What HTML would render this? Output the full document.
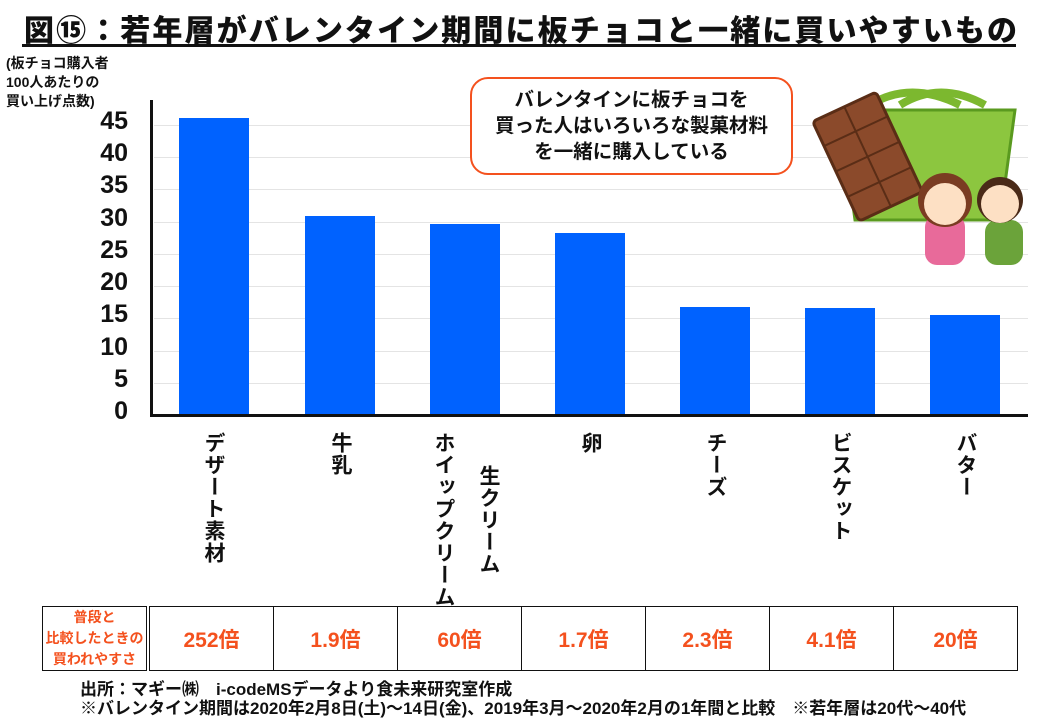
<!DOCTYPE html>
<html><head><meta charset="utf-8"><style>
body{margin:0;width:1040px;height:720px;background:#fff;position:relative;overflow:hidden;font-family:"Liberation Sans","Noto Sans CJK JP",sans-serif;font-weight:bold;color:#111}
.a{position:absolute}
.t{left:24px;top:6px;font-size:30px;letter-spacing:2.1px;white-space:nowrap;font-weight:900}
.ul{left:22px;top:44px;width:994px;height:3px;background:#111}
.yl{left:6px;top:54px;font-size:14px;line-height:19px}
.tk{width:42px;text-align:right;left:86px;font-size:25px;line-height:25px;font-weight:900}
.gl{left:154px;width:874px;height:1px;background:#e4e4e4}
.bar{background:#0062ff;width:70px}
.cat{writing-mode:vertical-rl;font-size:21px;line-height:24px;top:432px;letter-spacing:1px}
table{position:absolute;left:42px;top:606px;border-collapse:collapse}
td{border:1.5px solid #111;height:62px;width:123px;text-align:center;color:#f4511e;font-size:21px;padding:0}
td.h{width:103px;font-size:14px;line-height:21px;border-right:4px double #111}
.src{left:80px;top:680px;font-size:17px;line-height:19px;white-space:nowrap}
.call{left:470px;top:77px;width:323px;height:98px;border:2.5px solid #f4511e;border-radius:18px;text-align:center;font-size:19.5px;line-height:26px;padding-top:8px;box-sizing:border-box;background:#fff}
</style></head><body>
<div class="a t">図⑮：若年層がバレンタイン期間に板チョコと一緒に買いやすいもの</div>
<div class="a ul"></div>
<div class="a yl">(板チョコ購入者<br>100人あたりの<br>買い上げ点数)</div>
<div class="a gl" style="top:125px"></div><div class="a gl" style="top:157px"></div><div class="a gl" style="top:189px"></div><div class="a gl" style="top:222px"></div><div class="a gl" style="top:254px"></div><div class="a gl" style="top:286px"></div><div class="a gl" style="top:318px"></div><div class="a gl" style="top:351px"></div><div class="a gl" style="top:383px"></div>
<div class="a tk" style="top:109px">45</div><div class="a tk" style="top:141px">40</div><div class="a tk" style="top:173px">35</div><div class="a tk" style="top:206px">30</div><div class="a tk" style="top:238px">25</div><div class="a tk" style="top:270px">20</div><div class="a tk" style="top:302px">15</div><div class="a tk" style="top:335px">10</div><div class="a tk" style="top:367px">5</div><div class="a tk" style="top:399px">0</div>
<div class="a bar" style="left:179px;top:118px;height:297px"></div>
<div class="a bar" style="left:305px;top:216px;height:199px"></div>
<div class="a bar" style="left:430px;top:224px;height:191px"></div>
<div class="a bar" style="left:555px;top:233px;height:182px"></div>
<div class="a bar" style="left:680px;top:307px;height:108px"></div>
<div class="a bar" style="left:805px;top:308px;height:107px"></div>
<div class="a bar" style="left:930px;top:315px;height:100px"></div>
<div class="a" style="left:150px;top:100px;width:3px;height:317px;background:#111"></div>
<div class="a" style="left:150px;top:414px;width:878px;height:3px;background:#111"></div>
<div class="a cat" style="left:201px">デザート素材</div>
<div class="a cat" style="left:328px">牛乳</div>
<div class="a cat" style="left:431px">ホイップクリーム</div>
<div class="a cat" style="left:476px;top:465px">生クリーム</div>
<div class="a cat" style="left:578px">卵</div>
<div class="a cat" style="left:703px">チーズ</div>
<div class="a cat" style="left:828px">ビスケット</div>
<div class="a cat" style="left:953px">バター</div>
<div class="a call">バレンタインに板チョコを<br>買った人はいろいろな製菓材料<br>を一緒に購入している</div>
<svg class="a" style="left:810px;top:80px" width="220" height="190">
<path d="M60 25 Q100 0 150 25" stroke="#7cb82f" stroke-width="8" fill="none"/>
<path d="M90 25 Q130 0 175 25" stroke="#7cb82f" stroke-width="8" fill="none"/>
<path d="M30 30 L205 30 L190 140 L45 140 Z" fill="#8cc63f" stroke="#5a9a1f" stroke-width="3"/>
<g transform="rotate(-25 60 70)"><rect x="20" y="20" width="70" height="110" rx="4" fill="#8b4a2b" stroke="#5a2d16" stroke-width="3"/>
<path d="M20 47H90M20 75H90M20 103H90M55 20V130" stroke="#5a2d16" stroke-width="2"/></g>
<rect x="115" y="135" width="40" height="50" rx="12" fill="#e86a9a"/>
<circle cx="135" cy="120" r="27" fill="#7a3c22"/><circle cx="135" cy="124" r="21" fill="#fde0c4"/>
<rect x="175" y="140" width="38" height="45" rx="12" fill="#6ba33a"/>
<circle cx="190" cy="120" r="23" fill="#4a2a18"/><circle cx="190" cy="124" r="19" fill="#fde0c4"/>
</svg>
<table><tr><td class="h">普段と<br>比較したときの<br>買われやすさ</td><td>252倍</td><td>1.9倍</td><td>60倍</td><td>1.7倍</td><td>2.3倍</td><td>4.1倍</td><td>20倍</td></tr></table>
<div class="a src">出所：マギー㈱　i-codeMSデータより食未来研究室作成<br>※バレンタイン期間は2020年2月8日(土)～14日(金)、2019年3月～2020年2月の1年間と比較　※若年層は20代～40代</div>
</body></html>
